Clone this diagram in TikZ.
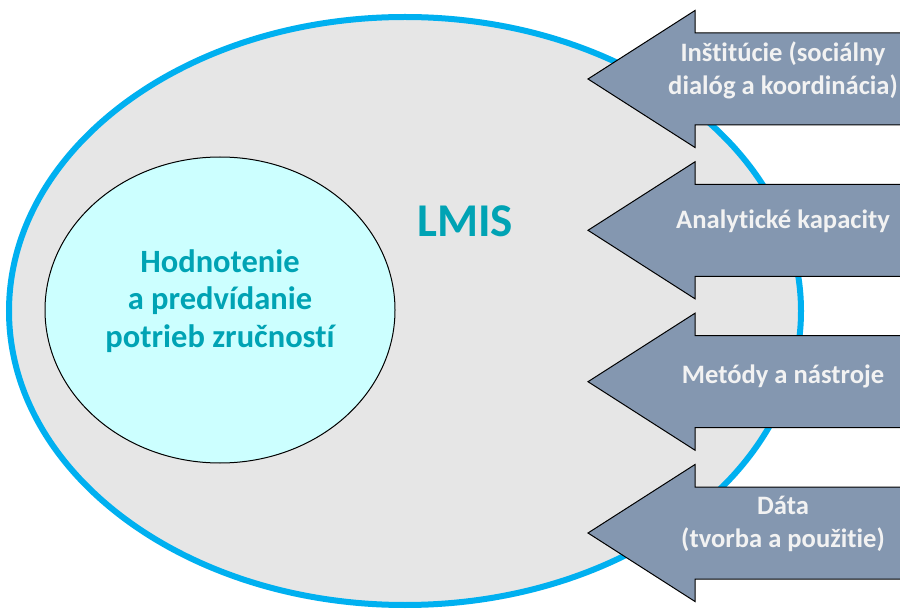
\documentclass[tikz,border=0pt]{standalone}
\usepackage{fontspec}
\setmainfont[Ligatures=NoCommon]{Carlito}
\definecolor{lmisblue}{HTML}{00B0F0}
\definecolor{outerfill}{HTML}{E6E6E6}
\definecolor{innerfill}{HTML}{CCFFFF}
\definecolor{tealtext}{HTML}{00A3B4}
\definecolor{arrowfill}{HTML}{8497B0}
\definecolor{arrowtext}{HTML}{F2F2F2}
\begin{document}
\begin{tikzpicture}[x=1pt,y=-1pt,
  outerell/.style={draw=lmisblue,line width=6pt,fill=outerfill},
  innerell/.style={draw=black,line width=1pt,fill=innerfill},
  blockarrow/.style={draw=black,line width=1pt,fill=arrowfill,line join=miter},
  arrowlabel/.style={text=arrowtext,font=\bfseries\fontsize{26.6}{33}\selectfont,align=center,inner sep=0pt},
  bigtitle/.style={text=tealtext,font=\bfseries\fontsize{47}{50}\selectfont,inner sep=0pt},
  innertext/.style={text=tealtext,font=\bfseries\fontsize{32.5}{37.5}\selectfont,align=center,inner sep=0pt}]
\useasboundingbox (0,0) rectangle (900,612);
\fill[white] (0,0) rectangle (900,612);
% outer ellipse
\path[outerell] (405,311) ellipse [x radius=396, y radius=294];
% inner ellipse
\path[innerell] (220,310) ellipse [x radius=175, y radius=153];
\node[innertext] (skills) at (220,301) {Hodnotenie\\a predvídanie\\potrieb zručností};
\node[bigtitle] (lmis) at (465,221) {LMIS};
% arrows
\foreach \yc/\nm in {79/a1,230.3/a2,381.7/a3,533/a4}{
  \path[blockarrow] (588,\yc) -- (695,\yc-68.5) -- (695,\yc-46) -- (910,\yc-46)
     -- (910,\yc+46) -- (695,\yc+46) -- (695,\yc+68.5) -- cycle;
}
\node[arrowlabel] (l1) at (783,70) {Inštitúcie (sociálny\\dialóg a koordinácia)};
\node[arrowlabel] (l2) at (783,221) {Analytické kapacity};
\node[arrowlabel] (l3) at (783,376) {Metódy a nástroje};
\node[arrowlabel] (l4) at (783,524) {Dáta\\(tvorba a použitie)};
\end{tikzpicture}
\end{document}
